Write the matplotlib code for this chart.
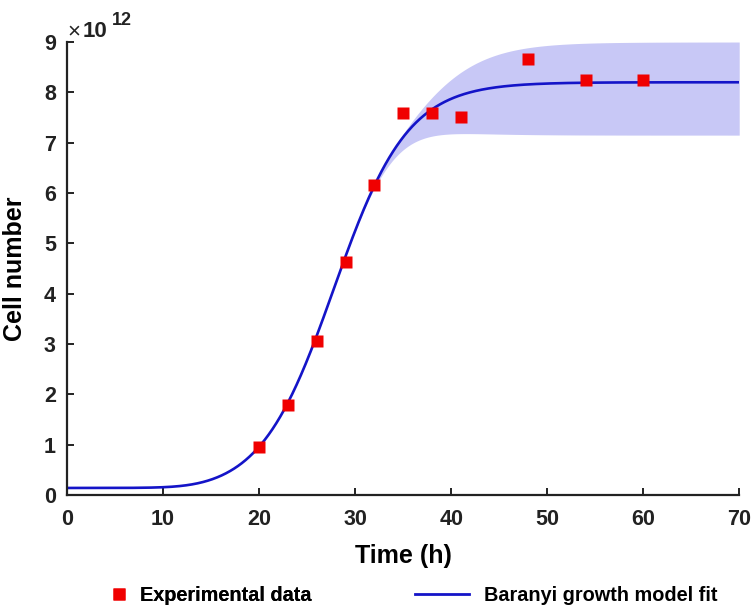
import numpy as np
import matplotlib
matplotlib.use("Agg")
import matplotlib.pyplot as plt
from matplotlib.lines import Line2D

# Experimental data (time in h, cell number)
time_h = [20, 23, 26, 29, 32, 35, 38, 41, 48, 54, 60]
cells = [0.95e12, 1.79e12, 3.06e12, 4.63e12, 6.16e12, 7.59e12, 7.59e12,
         7.51e12, 8.67e12, 8.25e12, 8.25e12]

# Baranyi-Roberts model fit parameters
N0 = 0.14e12
Nmax = 8.2e12
mu_max = 0.26
lag = 12.2
lag_curvature = 0.6
# confidence band (plateau limits and how fast the band opens up)
Nmax_upper = 9.0e12
Nmax_lower = 7.15e12
band_exp_upper = 18
band_exp_lower = 10

x_ticks = [0, 10, 20, 30, 40, 50, 60, 70]
y_ticks = [0, 1, 2, 3, 4, 5, 6, 7, 8, 9]


def baranyi(t, n0, nmax, mu, lam, v):
    q0 = 1.0 / (np.exp(v * lam) - 1.0)
    A = t + (1.0 / v) * np.log((np.exp(-v * t) + q0) / (1.0 + q0))
    y0 = np.log(n0)
    ymax = np.log(nmax)
    y = y0 + mu * A - np.log(1 + (np.exp(mu * A) - 1) / np.exp(ymax - y0))
    return np.exp(y)


plt.rcParams['font.family'] = ['Liberation Sans', 'DejaVu Sans']
fig = plt.figure(figsize=(7.54, 6.07), dpi=100)
ax = fig.add_axes([0.0889, 0.1845, 0.8915, 0.7463])

t = np.linspace(0, 70, 1401)
fit = baranyi(t, N0, Nmax, mu_max, lag, lag_curvature)
frac = fit / Nmax
up = fit + (Nmax_upper - Nmax) * frac ** band_exp_upper
lo = fit - (Nmax - Nmax_lower) * frac ** band_exp_lower

ax.fill_between(t, lo, up, color='#c8c8f6', lw=0, zorder=1)
ax.plot(t, fit, color='#1414c8', lw=1.9, zorder=2)
ax.plot(time_h, cells, 's', color='#f00000', ms=9, mec='none', zorder=3)

ax.set_xlim(0, 70)
ax.set_ylim(0, 9e12)
ax.set_xticks(x_ticks)
ax.set_yticks([v * 1e12 for v in y_ticks])
ax.set_xticklabels([str(v) for v in x_ticks])
ax.set_yticklabels([str(v) for v in y_ticks])
for s in ['top', 'right']:
    ax.spines[s].set_visible(False)
for s in ['left', 'bottom']:
    ax.spines[s].set_linewidth(1.6)
    ax.spines[s].set_color('#222222')
ax.tick_params(direction='in', length=5, width=1.4, labelsize=15.5, colors='#222222')
ax.tick_params(axis='x', pad=10)
ax.tick_params(axis='y', pad=8)
for lbl in ax.get_xticklabels() + ax.get_yticklabels():
    lbl.set_fontweight('bold')

# exponent label (x10^12)
fig.text(67 / 754, 1 - 37 / 607, '\u00d7', fontsize=16, color='#222222',
         ha='left', va='baseline')
fig.text(83 / 754, 1 - 37 / 607, '10', fontsize=16, fontweight='bold',
         color='#222222', ha='left', va='baseline')
fig.text(112 / 754, 1 - 25 / 607, '12', fontsize=13, fontweight='bold',
         color='#222222', ha='left', va='baseline')

ax.set_xlabel('Time (h)', fontsize=18, fontweight='bold', labelpad=10)
ax.set_ylabel('Cell number', fontsize=18, fontweight='bold', labelpad=12)

h1 = Line2D([], [], ls='none', marker='s', color='#f00000', ms=9, mec='none')
h2 = Line2D([], [], color='#1414c8', lw=2.0)
leg1 = fig.legend([h1], ['Experimental data'], loc='center left',
                  bbox_to_anchor=(0.144, 0.019), frameon=False,
                  prop={'size': 14.3, 'weight': 'bold'}, handlelength=1.0,
                  handletextpad=0.6, borderaxespad=0, borderpad=0)
fig.add_artist(leg1)
leg2 = fig.legend([h2], ['Baranyi growth model fit'], loc='center left',
                  bbox_to_anchor=(0.551, 0.019), frameon=False,
                  prop={'size': 14.3, 'weight': 'bold'}, handlelength=2.7,
                  handletextpad=0.75, borderaxespad=0, borderpad=0)

fig.savefig('out.png', dpi=100)
